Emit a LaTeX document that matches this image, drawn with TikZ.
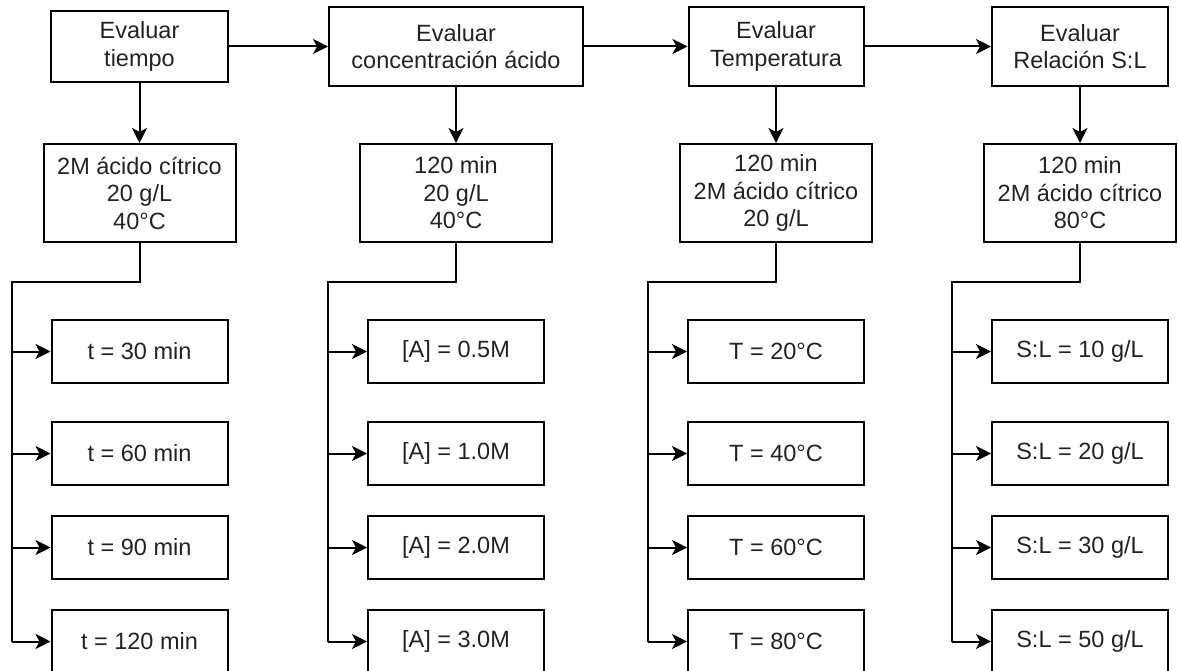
\documentclass[tikz,border=0pt]{standalone}
\usepackage{fontspec}
\setmainfont{Liberation Sans}
\usetikzlibrary{arrows.meta}
\definecolor{FlowLine}{HTML}{000000}
\definecolor{FlowText}{HTML}{222222}

\begin{document}
\begin{tikzpicture}[x=1pt,y=-1pt,line width=2pt,draw=FlowLine,
  boxfont/.style={font=\fontsize{23.5}{27.5}\selectfont,text=FlowText,align=center},
  evalbox/.style={draw,boxfont,inner sep=0pt,minimum height=79},
  condbox/.style={draw,boxfont,inner sep=0pt,minimum width=192,minimum height=98},
  leafbox/.style={draw,boxfont,inner sep=0pt,minimum width=176,minimum height=63},
  flow/.style={-{Stealth[length=15pt,width=15pt,inset=4pt]}}]
  \useasboundingbox (0,0) rectangle (1178,671);
  \clip (0,0) rectangle (1178,671);
  % parameter to evaluate
  \node[evalbox,minimum width=177,minimum height=71] (e1) at (139.5,46.5) {Evaluar\\tiempo};
  \node[evalbox,minimum width=254] (e2) at (456,46.5) {Evaluar\\concentración ácido};
  \node[evalbox,minimum width=175] (e3) at (776,46.5) {Evaluar\\Temperatura};
  \node[evalbox,minimum width=176] (e4) at (1080,46.5) {Evaluar\\Relación S:L};
  % fixed conditions
  \node[condbox] (c1) at (139.5,193) {2M ácido cítrico\\20 g/L\\40°C};
  \node[condbox] (c2) at (456,193) {120 min\\20 g/L\\40°C};
  \node[condbox] (c3) at (776,193) {120 min\\2M ácido cítrico\\20 g/L};
  \node[condbox] (c4) at (1080,193) {120 min\\2M ácido cítrico\\80°C};
  \foreach \a/\b in {e1/e2,e2/e3,e3/e4}{\draw[flow] (\a) -- (\b);}
  % tested values
  \foreach \n/\x/\la/\lb/\lc/\ld in {
    1/139.5/{t = 30 min}/{t = 60 min}/{t = 90 min}/{t = 120 min},
    2/456/{[A] = 0.5M}/{[A] = 1.0M}/{[A] = 2.0M}/{[A] = 3.0M},
    3/776/{T = 20°C}/{T = 40°C}/{T = 60°C}/{T = 80°C},
    4/1080/{S:L = 10 g/L}/{S:L = 20 g/L}/{S:L = 30 g/L}/{S:L = 50 g/L}}{
    \draw[flow] (e\n) -- (c\n);
    \node[leafbox] (la\n) at (\x,351.5) {\la};
    \node[leafbox] (lb\n) at (\x,453.5) {\lb};
    \node[leafbox] (lc\n) at (\x,547.5) {\lc};
    \node[leafbox] (ld\n) at (\x,641.5) {\ld};
    \coordinate (k\n) at (\x-128,282);
    \draw (c\n.south) |- (k\n) -- (k\n |- ld\n.west);
    \foreach \r in {la,lb,lc,ld}{\draw[flow] (k\n |- \r\n.west) -- (\r\n.west);}
  }
\end{tikzpicture}
\end{document}
